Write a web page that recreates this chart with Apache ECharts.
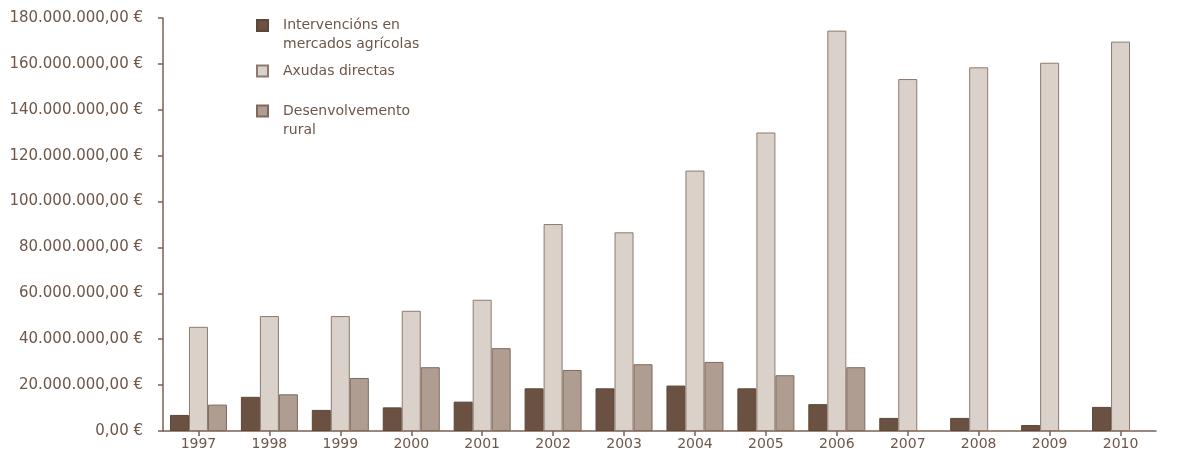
<!DOCTYPE html>
<html>
<head>
<meta charset="utf-8">
<script src="https://cdn.jsdelivr.net/npm/echarts@6/dist/echarts.min.js"></script>
<style>
html,body{margin:0;padding:0;background:#fff;}
#c{width:1177px;height:455px;}
</style>
</head>
<body>
<div id="c"></div>
<script>
const years = ['1997','1998','1999','2000','2001','2002','2003','2004','2005','2006','2007','2008','2009','2010'];
const seriesNames = ['Intervencións en mercados agrícolas', 'Axudas directas', 'Desenvolvemento rural'];
const legendLabels = [' \nIntervencións en\nmercados agrícolas', 'Axudas directas', ' \nDesenvolvemento\nrural'];
const intervencions = [7.0, 14.9, 9.2, 10.3, 12.8, 18.6, 18.6, 19.8, 18.6, 11.7, 5.7, 5.7, 2.6, 10.5];
const axudas = [45.4, 50.1, 50.1, 52.4, 57.2, 90.2, 86.6, 113.5, 130.1, 174.5, 153.4, 158.5, 160.5, 169.7];
const desenvolvemento = [11.5, 16.0, 23.1, 27.8, 36.1, 26.6, 29.1, 30.1, 24.3, 27.8, null, null, null, null];
const yTicks = [0, 20, 40, 60, 80, 100, 120, 140, 160, 180];
const M = 1e6;

const txt = '#6e5648';
const font = 'DejaVu Sans';

function fmtEuro(v) {
  const s = Math.round(v).toString().replace(/\B(?=(\d{3})+(?!\d))/g, '.');
  return s + ',00 €';
}

const chart = echarts.init(document.getElementById('c'), null, {renderer: 'canvas'});

function legendFor(i, top) {
  return {
    show: true,
    data: [seriesNames[i]],
    orient: 'vertical',
    left: 256,
    top: top,
    padding: 0,
    itemWidth: 11,
    itemHeight: 11,
    itemGap: 0,
    selectedMode: false,
    icon: 'rect',
    formatter: function () { return legendLabels[i]; },
    textStyle: {
      color: txt,
      fontFamily: font,
      fontSize: 14,
      lineHeight: 19,
      padding: [0, 0, 0, 10]
    }
  };
}

const option = {
  animation: false,
  backgroundColor: '#ffffff',
  textStyle: {fontFamily: font},
  legend: [
    legendFor(0, -3),
    legendFor(1, 61.5),
    legendFor(2, 82.5)
  ],
  grid: {left: 163, right: 21, top: 18, bottom: 24, containLabel: false},
  xAxis: {
    type: 'category',
    data: years,
    boundaryGap: true,
    axisLine: {show: true, lineStyle: {color: '#7a6252', width: 1.5}},
    axisTick: {show: true, alignWithLabel: true, length: 5, lineStyle: {color: '#7a6252', width: 1.5}},
    axisLabel: {color: txt, fontFamily: font, fontSize: 14, margin: 6}
  },
  yAxis: {
    type: 'value',
    min: 0,
    max: 180 * M,
    interval: 20 * M,
    splitLine: {show: false},
    axisLine: {show: true, lineStyle: {color: '#7a6252', width: 1.5}},
    axisTick: {show: true, length: 5, lineStyle: {color: '#7a6252', width: 1.5}},
    axisLabel: {
      color: txt, fontFamily: font, fontSize: 15, margin: 20,
      formatter: function (v) { return fmtEuro(v); }
    }
  },
  series: [
    {
      name: seriesNames[0], type: 'bar', barWidth: 19, barGap: '0%',
      data: intervencions.map(v => v == null ? null : v * M),
      itemStyle: {color: '#6a5141', borderColor: '#5e4738', borderWidth: 1}
    },
    {
      name: seriesNames[1], type: 'bar', barWidth: 19, barGap: '0%',
      data: axudas.map(v => v == null ? null : v * M),
      itemStyle: {color: '#d9d1ca', borderColor: '#8e7a6d', borderWidth: 1}
    },
    {
      name: seriesNames[2], type: 'bar', barWidth: 19, barGap: '0%',
      data: desenvolvemento.map(v => v == null ? null : v * M),
      itemStyle: {color: '#ae9d90', borderColor: '#7e6a5d', borderWidth: 1}
    }
  ]
};
chart.setOption(option);
</script>
</body>
</html>
